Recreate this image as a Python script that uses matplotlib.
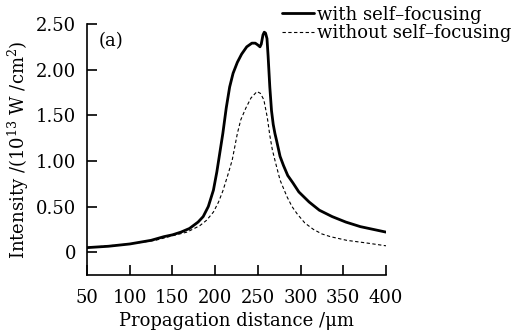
import matplotlib
matplotlib.use("Agg")
import matplotlib.pyplot as plt

# propagation distance (um) and intensity (1e13 W/cm^2)
x_self = [50, 75, 100, 125, 140, 150, 160, 170, 180, 186, 192, 198, 202, 206, 209,
          213, 217, 221, 226, 231, 237, 243, 247, 250, 252.5, 254, 256, 257.5, 259,
          260.7, 262, 264, 266, 268, 270, 272, 276, 280, 285, 291, 298, 310, 322,
          337, 353, 370, 385, 400]
y_self = [0.05, 0.065, 0.09, 0.13, 0.17, 0.19, 0.22, 0.26, 0.33, 0.39, 0.50, 0.68, 0.88,
          1.12, 1.30, 1.58, 1.81, 1.96, 2.08, 2.17, 2.25, 2.29, 2.29, 2.27, 2.25, 2.28,
          2.38, 2.41, 2.40, 2.34, 2.15, 1.81, 1.55, 1.40, 1.30, 1.22, 1.05, 0.95, 0.84,
          0.76, 0.66, 0.55, 0.46, 0.39, 0.33, 0.28, 0.25, 0.22]

x_noself = [50, 100, 130, 150, 167, 182, 190, 198, 204, 209, 215, 220, 226, 230, 236,
            242, 249, 253, 257, 261, 264, 267, 271, 276, 284, 290, 296, 305, 315, 325,
            335, 354, 378, 400]
y_noself = [0.05, 0.09, 0.13, 0.18, 0.22, 0.29, 0.35, 0.44, 0.55, 0.67, 0.85, 1.01, 1.30,
            1.45, 1.58, 1.69, 1.76, 1.74, 1.67, 1.48, 1.28, 1.12, 0.97, 0.79, 0.61, 0.50,
            0.42, 0.32, 0.25, 0.20, 0.17, 0.13, 0.10, 0.07]

xticks = [50, 100, 150, 200, 250, 300, 350, 400]
yticks = [0, 0.5, 1.0, 1.5, 2.0, 2.5]
ytick_labels = ["0", "0.50", "1.00", "1.50", "2.00", "2.50"]

plt.rcParams['font.family'] = ['DejaVu Serif']
plt.rcParams['mathtext.fontset'] = 'dejavuserif'

fig = plt.figure(figsize=(5.13, 3.36), dpi=100)
ax = fig.add_axes([0.1696, 0.1815, 0.5828, 0.7471])

l1, = ax.plot(x_self, y_self, color='black', lw=2.0, solid_capstyle='round',
              label='with self\u2013focusing')
l2, = ax.plot(x_noself, y_noself, color='black', lw=0.8, linestyle=(0, (3, 2.2)),
              label='without self\u2013focusing')

ax.set_xlim(50, 400)
ax.set_ylim(-0.25, 2.5)
ax.set_xticks(xticks)
ax.set_yticks(yticks)
ax.set_yticklabels(ytick_labels)
ax.spines['top'].set_visible(False)
ax.spines['right'].set_visible(False)
for s in ('left', 'bottom'):
    ax.spines[s].set_linewidth(1.2)
ax.tick_params(direction='in', length=7, width=1.2, labelsize=13, pad=8)
ax.tick_params(axis='x', pad=10)

ax.set_xlabel('Propagation distance /\u03bcm', fontsize=13, labelpad=4)
ax.set_ylabel('Intensity /(10$^{13}$ W /cm$^{2}$)', fontsize=13, labelpad=3)
ax.text(0.04, 0.93, '(a)', transform=ax.transAxes, fontsize=13, va='center')

fig.legend(handles=[l1, l2], loc='upper left', bbox_to_anchor=(0.535, 1.005),
           frameon=False, fontsize=13, handlelength=1.8, handletextpad=0.15,
           labelspacing=0.05, borderaxespad=0)

fig.savefig('out.png', dpi=100)
